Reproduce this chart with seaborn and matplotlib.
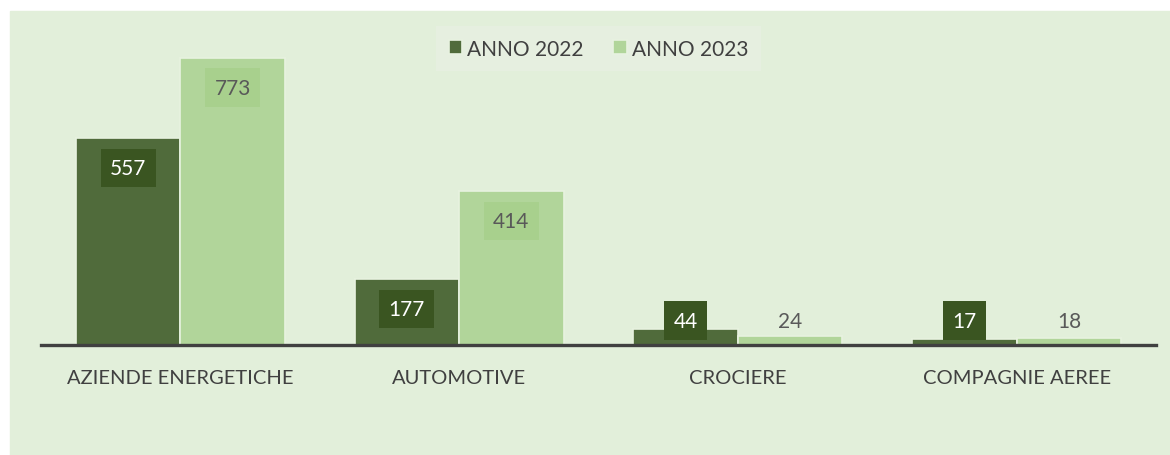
import pandas as pd
import matplotlib.pyplot as plt
import seaborn as sns
from matplotlib.patches import Rectangle

categorie = ["AZIENDE ENERGETICHE", "AUTOMOTIVE", "CROCIERE", "COMPAGNIE AEREE"]
anni = ["ANNO 2022", "ANNO 2023"]
valori_2022 = [557, 177, 44, 17]
valori_2023 = [773, 414, 24, 18]

colori = ["#506b3b", "#b1d59a"]
box_colori = ["#3a5521", "#a8d08d"]
testo_colori = ["white", "#595959"]
sfondo = "#e2efda"

df = pd.DataFrame({
    "categoria": categorie * 2,
    "anno": [anni[0]] * 4 + [anni[1]] * 4,
    "valore": valori_2022 + valori_2023,
})

sns.set_style("white")
plt.rcParams['font.family'] = ['Lato', 'DejaVu Sans']

fig = plt.figure(figsize=(11.7, 4.56), dpi=100)
fig.add_artist(Rectangle((10 / 1170, 0), 1 - 10 / 1170, 1 - 12 / 456,
                         transform=fig.transFigure, color=sfondo, zorder=-10))

ax = fig.add_axes([41 / 1170, 1 - 346 / 456, (1156 - 41) / 1170, (346 - 20) / 456])
ax.set_facecolor("none")

sns.barplot(data=df, x="categoria", y="valore", hue="anno", palette=colori,
            width=0.75, gap=0, edgecolor="#e8f2e0", linewidth=1.2,
            saturation=1, ax=ax, legend=True)

ax.set_ylim(0, 878)
ax.set_xlim(-0.5, 3.5)
ax.set_yticks([])
ax.set_xlabel("")
ax.set_ylabel("")
for s in ["top", "right", "left"]:
    ax.spines[s].set_visible(False)
ax.spines["bottom"].set_color("#404040")
ax.spines["bottom"].set_linewidth(2.4)
ax.tick_params(axis="x", length=0, pad=17, labelsize=14.5, labelcolor="#404040")

# etichette dati
for i, cont in enumerate(ax.containers):
    for bar, v in zip(cont, [valori_2022, valori_2023][i]):
        x = bar.get_x() + bar.get_width() / 2
        y = max(v - 80, 65)
        dentro = y < v
        bbox = None
        if i == 0 or dentro:
            bbox = dict(boxstyle="square,pad=0.45", fc=box_colori[i], ec="none")
        ax.text(x, y, str(v), ha="center", va="center", fontsize=15,
                color=testo_colori[i], bbox=bbox)

leg = ax.legend(loc="upper center", bbox_to_anchor=(0.5, 1.01), ncol=2,
                frameon=True, fontsize=15, handlelength=0.65, handleheight=0.65,
                handletextpad=0.25, columnspacing=1.4, borderpad=0.6,
                fancybox=False)
leg.get_frame().set_facecolor("#e8f0e2")
leg.get_frame().set_edgecolor("none")
for t in leg.get_texts():
    t.set_color("#404040")

fig.savefig("out.png", dpi=100)
